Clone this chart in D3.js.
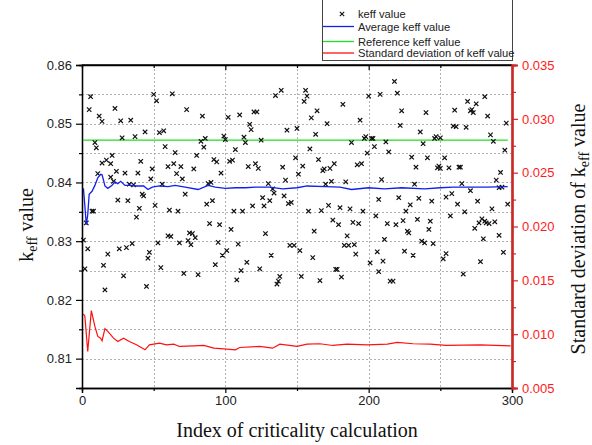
<!DOCTYPE html>
<html>
<head>
<meta charset="utf-8">
<script src="https://cdn.jsdelivr.net/npm/d3@7"></script>
<style>
  body { margin: 0; background: #fff; }
  svg { display: block; }
  .tick text { font-family: "Liberation Sans", Arial, sans-serif; font-size: 13px; }
</style>
</head>
<body>
<svg id="chart" width="592" height="445"></svg>
<script>
(function() {
'use strict';

// keff value of each criticality calculation (index, value)
var idx = [
    1, 2, 3, 4, 5, 6, 7, 8, 9, 10, 11, 12, 14, 14, 15, 16, 17, 18, 20, 20,
    21, 22, 23, 24, 25, 26, 27, 28, 29, 30, 31, 32, 33, 34, 35, 36, 37, 38, 39, 40,
    41, 42, 43, 44, 45, 46, 47, 48, 49, 50, 51, 52, 53, 54, 55, 56, 57, 58, 60, 60,
    61, 62, 63, 64, 65, 66, 67, 68, 69, 70, 71, 72, 73, 74, 75, 76, 77, 78, 79, 80,
    81, 83, 84, 85, 86, 87, 88, 89, 90, 91, 92, 93, 94, 95, 96, 97, 98, 99, 100, 101,
    102, 103, 104, 105, 106, 107, 108, 109, 110, 111, 112, 113, 114, 115, 116, 117, 118, 119, 120, 121,
    122, 123, 124, 125, 126, 127, 128, 130, 131, 132, 133, 134, 135, 136, 137, 138, 139, 140, 141, 142,
    143, 144, 145, 146, 148, 149, 150, 151, 152, 153, 154, 155, 156, 157, 158, 159, 160, 161, 162, 163,
    164, 165, 166, 167, 168, 169, 170, 171, 172, 173, 174, 175, 176, 177, 178, 179, 180, 181, 182, 183,
    184, 185, 186, 187, 188, 189, 190, 191, 192, 193, 194, 195, 196, 197, 198, 199, 200, 201, 202, 203,
    204, 205, 206, 207, 207, 208, 209, 210, 211, 212, 213, 214, 215, 217, 218, 219, 220, 221, 222, 223,
    224, 225, 226, 227, 228, 229, 230, 231, 232, 233, 234, 235, 236, 237, 238, 239, 240, 241, 242, 243,
    244, 245, 246, 247, 248, 249, 250, 250, 252, 253, 254, 254, 256, 257, 258, 259, 260, 261, 262, 263,
    264, 265, 266, 267, 268, 269, 271, 271, 272, 273, 274, 275, 276, 277, 278, 279, 280, 281, 281, 282,
    283, 284, 285, 286, 287, 288, 289, 291, 291, 292, 293, 294, 295, 296, 297
];
var keff = [
    0.8302, 0.8253, 0.8331, 0.8287, 0.8524, 0.8546, 0.8351, 0.8351, 0.8468, 0.8459,
    0.8415, 0.8513, 0.8504, 0.8433, 0.8259, 0.8217, 0.8438, 0.8278, 0.8432, 0.8409,
    0.8446, 0.8402, 0.8526, 0.8419, 0.8370, 0.8287, 0.8505, 0.8476, 0.8241, 0.8416,
    0.8289, 0.8369, 0.8397, 0.8506, 0.8296, 0.8396, 0.8478, 0.8341, 0.8416, 0.8356,
    0.8436, 0.8380, 0.8377, 0.8486, 0.8223, 0.8271, 0.8281, 0.8406, 0.8423, 0.8550,
    0.8361, 0.8539, 0.8297, 0.8485, 0.8255, 0.8397, 0.8488, 0.8461, 0.8427, 0.8309,
    0.8353, 0.8308, 0.8551, 0.8432, 0.8451, 0.8415, 0.8351, 0.8297, 0.8427, 0.8406,
    0.8245, 0.8380, 0.8524, 0.8301, 0.8314, 0.8294, 0.8313, 0.8423, 0.8306, 0.8446,
    0.8243, 0.8470, 0.8513, 0.8460, 0.8475, 0.8363, 0.8398, 0.8330, 0.8400, 0.8369,
    0.8439, 0.8260, 0.8435, 0.8298, 0.8328, 0.8416, 0.8276, 0.8479, 0.8473, 0.8284,
    0.8511, 0.8436, 0.8320, 0.8438, 0.8351, 0.8456, 0.8234, 0.8295, 0.8515, 0.8250,
    0.8351, 0.8477, 0.8468, 0.8264, 0.8427, 0.8499, 0.8490, 0.8360, 0.8520, 0.8432,
    0.8520, 0.8424, 0.8253, 0.8472, 0.8374, 0.8360, 0.8313, 0.8398, 0.8369, 0.8276,
    0.8389, 0.8382, 0.8548, 0.8227, 0.8232, 0.8240, 0.8557, 0.8426, 0.8377, 0.8404,
    0.8489, 0.8364, 0.8293, 0.8366, 0.8293, 0.8442, 0.8492, 0.8414, 0.8284, 0.8240,
    0.8428, 0.8538, 0.8557, 0.8547, 0.8351, 0.8457, 0.8510, 0.8272, 0.8317, 0.8482,
    0.8522, 0.8439, 0.8233, 0.8352, 0.8420, 0.8423, 0.8397, 0.8500, 0.8361, 0.8424,
    0.8402, 0.8336, 0.8432, 0.8252, 0.8252, 0.8328, 0.8357, 0.8239, 0.8533, 0.8293,
    0.8401, 0.8309, 0.8293, 0.8355, 0.8468, 0.8332, 0.8294, 0.8278, 0.8430, 0.8330,
    0.8506, 0.8432, 0.8351, 0.8475, 0.8478, 0.8450, 0.8547, 0.8263, 0.8475, 0.8475,
    0.8461, 0.8343, 0.8282, 0.8371, 0.8248, 0.8550, 0.8405, 0.8266, 0.8303, 0.8469,
    0.8330, 0.8452, 0.8232, 0.8232, 0.8572, 0.8328, 0.8552, 0.8374, 0.8497, 0.8522,
    0.8335, 0.8283, 0.8351, 0.8317, 0.8314, 0.8362, 0.8443, 0.8276, 0.8397, 0.8426,
    0.8337, 0.8373, 0.8486, 0.8300, 0.8466, 0.8297, 0.8519, 0.8442, 0.8320, 0.8334,
    0.8368, 0.8296, 0.8475, 0.8478, 0.8425, 0.8428, 0.8476, 0.8424, 0.8270, 0.8442,
    0.8375, 0.8279, 0.8425, 0.8343, 0.8381, 0.8496, 0.8523, 0.8495, 0.8363, 0.8426,
    0.8426, 0.8398, 0.8244, 0.8350, 0.8494, 0.8538, 0.8522, 0.8386, 0.8524, 0.8519,
    0.8322, 0.8534, 0.8368, 0.8331, 0.8265, 0.8338, 0.8304, 0.8546, 0.8334, 0.8331,
    0.8513, 0.8330, 0.8481, 0.8355, 0.8470, 0.8333, 0.8404, 0.8391, 0.8310, 0.8417,
    0.8392, 0.8281, 0.8455, 0.8501, 0.8363
];

// running average of keff (left axis)
var avgIdx = [1, 2, 3, 4, 5, 7, 9, 11, 13, 14, 15, 16, 18, 21, 23, 25, 27, 30, 33, 38,
    43, 46, 49, 54, 60, 65, 72, 81, 88, 93, 100, 107, 114, 121, 131, 140, 150, 157, 170, 180,
    188, 200, 211, 223, 239, 250, 259, 282, 297];
var avgVal = [0.8390, 0.8360, 0.8328, 0.8345, 0.8380, 0.8385, 0.8395, 0.8408, 0.8414, 0.8413, 0.8404, 0.8394, 0.8390, 0.8395,
    0.8401, 0.8398, 0.8402, 0.8395, 0.8395, 0.8394, 0.8394, 0.8388, 0.8392, 0.8394, 0.8393, 0.8395, 0.8392,
    0.8388, 0.8395, 0.8392, 0.8390, 0.8391, 0.8391, 0.8392, 0.8392, 0.8389, 0.8391, 0.8394, 0.8393, 0.8392,
    0.8388, 0.8391, 0.8389, 0.8391, 0.8389, 0.8391, 0.8392, 0.8392, 0.8393];

// reference keff
var refIdx = [1, 297];
var refVal = [0.8472, 0.8472];

// standard deviation of keff (right axis)
var sdIdx = [1, 2, 4, 6.5, 9, 11, 13, 14, 16, 18, 22, 25, 29, 33, 38, 44, 47, 54, 59, 64,
    68, 78, 85, 92, 99, 107, 110, 124, 133, 138, 150, 157, 166, 175, 185, 199, 213, 220, 231, 243,
    254, 278, 299];
var sdVal = [0.01187, 0.01166, 0.00839, 0.01219, 0.01072, 0.00979, 0.00963, 0.00939, 0.01051, 0.01026,
    0.00963, 0.00932, 0.00963, 0.00932, 0.00901, 0.00855, 0.00901, 0.00917, 0.00901, 0.00907,
    0.00886, 0.00892, 0.00895, 0.00870, 0.00864, 0.00855, 0.00876, 0.00886, 0.00870, 0.00907,
    0.00886, 0.00907, 0.00911, 0.00895, 0.00907, 0.00901, 0.00907, 0.00923, 0.00911, 0.00907,
    0.00895, 0.00901, 0.00892];

var legendLabels = ['keff value', 'Average keff value', 'Reference keff value', 'Standard deviation of keff value'];

var svg = d3.select('#chart');
var left = 82, right = 512, top = 65, bottom = 388;

var x = d3.scaleLinear().domain([0, 300]).range([left, right]);
var yL = d3.scaleLinear().domain([0.805, 0.86]).range([bottom, top]);
var yR = d3.scaleLinear().domain([0.005, 0.035]).range([bottom, top]);

var redAxis = '#c82a2a';
var sans = '"Liberation Sans", Arial, sans-serif';
var serif = '"Liberation Serif", "Times New Roman", serif';

// grid
var grid = svg.append('g').attr('stroke', '#b0b0b0').attr('stroke-width', 1)
    .attr('stroke-dasharray', '2,2');
grid.selectAll('line.h')
    .data(d3.range(0.81, 0.8575, 0.005))
    .enter().append('line')
    .attr('x1', left).attr('x2', right)
    .attr('y1', function(d) { return Math.round(yL(d)) + 0.5; })
    .attr('y2', function(d) { return Math.round(yL(d)) + 0.5; });
grid.selectAll('line.v')
    .data([50, 100, 150, 200, 250])
    .enter().append('line')
    .attr('y1', top).attr('y2', bottom)
    .attr('x1', function(d) { return Math.round(x(d)) + 0.5; })
    .attr('x2', function(d) { return Math.round(x(d)) + 0.5; });

// lines
var line = function(xs, ys, yScale) {
    return d3.line()
        .x(function(d, i) { return x(xs[i]); })
        .y(function(d, i) { return yScale(ys[i]); })(ys);
};
svg.append('path').attr('d', line(refIdx, refVal, yL))
    .attr('fill', 'none').attr('stroke', '#22dd22').attr('stroke-width', 1.3);

// scatter
var cross = 'M-2.2,-2.2L2.2,2.2M-2.2,2.2L2.2,-2.2';
svg.append('g').selectAll('path')
    .data(keff)
    .enter().append('path')
    .attr('d', cross)
    .attr('transform', function(d, i) {
        return 'translate(' + x(idx[i]) + ',' + yL(d) + ')';
    })
    .attr('stroke', '#111').attr('stroke-width', 1.2);

svg.append('path').attr('d', line(avgIdx, avgVal, yL))
    .attr('fill', 'none').attr('stroke', '#1020ee').attr('stroke-width', 1.3);
svg.append('path').attr('d', line(sdIdx, sdVal, yR))
    .attr('fill', 'none').attr('stroke', '#ff1010').attr('stroke-width', 1.2);

// axes
svg.append('g').attr('transform', 'translate(0,' + bottom + ')')
    .call(d3.axisBottom(x).tickValues([0, 100, 200, 300]).tickSize(5).tickPadding(3).tickFormat(d3.format('d')));
svg.append('g').attr('transform', 'translate(0,' + bottom + ')')
    .call(d3.axisBottom(x).tickValues([50, 150, 250]).tickSize(3).tickFormat(''));
var gT = svg.append('g').attr('transform', 'translate(0,' + top + ')')
    .call(d3.axisBottom(x).tickValues([100, 200]).tickSize(5).tickFormat(''));
svg.append('g').attr('transform', 'translate(0,' + top + ')')
    .call(d3.axisBottom(x).tickValues([50, 150, 250]).tickSize(3).tickFormat(''));
svg.append('g').attr('transform', 'translate(' + left + ',0)')
    .call(d3.axisLeft(yL).tickValues(d3.range(0.81, 0.865, 0.01)).tickSize(6).tickPadding(4).tickFormat(d3.format('.2f')));
svg.append('g').attr('transform', 'translate(' + left + ',0)')
    .call(d3.axisLeft(yL).tickValues(d3.range(0.815, 0.86, 0.01)).tickSize(3).tickFormat(''));
var gR = svg.append('g').attr('transform', 'translate(' + right + ',0)')
    .call(d3.axisRight(yR).tickValues(d3.range(0.005, 0.0355, 0.005)).tickSize(6).tickPadding(4).tickFormat(d3.format('.3f')));
var gR2 = svg.append('g').attr('transform', 'translate(' + right + ',0)')
    .call(d3.axisRight(yR).tickValues(d3.range(0.0075, 0.035, 0.005)).tickSize(4).tickFormat(''));

svg.selectAll('.domain').attr('stroke', '#000').attr('stroke-width', 1.3);
svg.selectAll('.tick line').attr('stroke', '#000').attr('stroke-width', 1.2);
svg.selectAll('.tick text').attr('fill', '#222');
gT.select('.domain').attr('d', 'M' + left + ',0H' + right);
[gR, gR2].forEach(function(g) {
    g.select('.domain').attr('stroke', redAxis).attr('stroke-width', 2.2);
    g.selectAll('.tick line').attr('stroke', redAxis);
    g.selectAll('.tick text').attr('fill', '#ff1a1a');
});

// axis titles
svg.append('text')
    .attr('x', 297).attr('y', 437)
    .attr('text-anchor', 'middle')
    .attr('font-family', serif).attr('font-size', 20).attr('fill', '#111')
    .text('Index of criticality calculation');

var yt = svg.append('text')
    .attr('transform', 'translate(33,225) rotate(-90)')
    .attr('text-anchor', 'middle')
    .attr('font-family', serif).attr('font-size', 20).attr('fill', '#111');
yt.append('tspan').text('k');
yt.append('tspan').attr('font-size', 14).attr('dy', 4).text('eff');
yt.append('tspan').attr('dy', -4).text(' value');

var rt = svg.append('text')
    .attr('transform', 'translate(585,229) rotate(-90)')
    .attr('text-anchor', 'middle')
    .attr('font-family', serif).attr('font-size', 20).attr('fill', '#111');
rt.append('tspan').text('Standard deviation of k');
rt.append('tspan').attr('font-size', 14).attr('dy', 4).text('eff');
rt.append('tspan').attr('dy', -4).text(' value');

// legend
var lg = svg.append('g');
lg.append('rect')
    .attr('x', 322.5).attr('y', -1).attr('width', 190).attr('height', 61.5)
    .attr('fill', '#fff').attr('stroke', '#444').attr('stroke-width', 1);
var rowY = [14, 26.5, 41.5, 53];
var rowColor = [null, '#1020ee', '#22dd22', '#ff1010'];
legendLabels.forEach(function(label, i) {
    if (i === 0) {
        lg.append('path').attr('d', cross)
            .attr('transform', 'translate(342,' + rowY[i] + ')')
            .attr('stroke', '#111').attr('stroke-width', 1.1);
    } else {
        lg.append('line')
            .attr('x1', 323).attr('x2', 354)
            .attr('y1', rowY[i]).attr('y2', rowY[i])
            .attr('stroke', rowColor[i]).attr('stroke-width', 1.3);
    }
    lg.append('text')
        .attr('x', 358).attr('y', rowY[i] + 4)
        .attr('font-family', sans).attr('font-size', 11.2).attr('fill', '#222')
        .text(label);
});

})();
</script>
</body>
</html>
